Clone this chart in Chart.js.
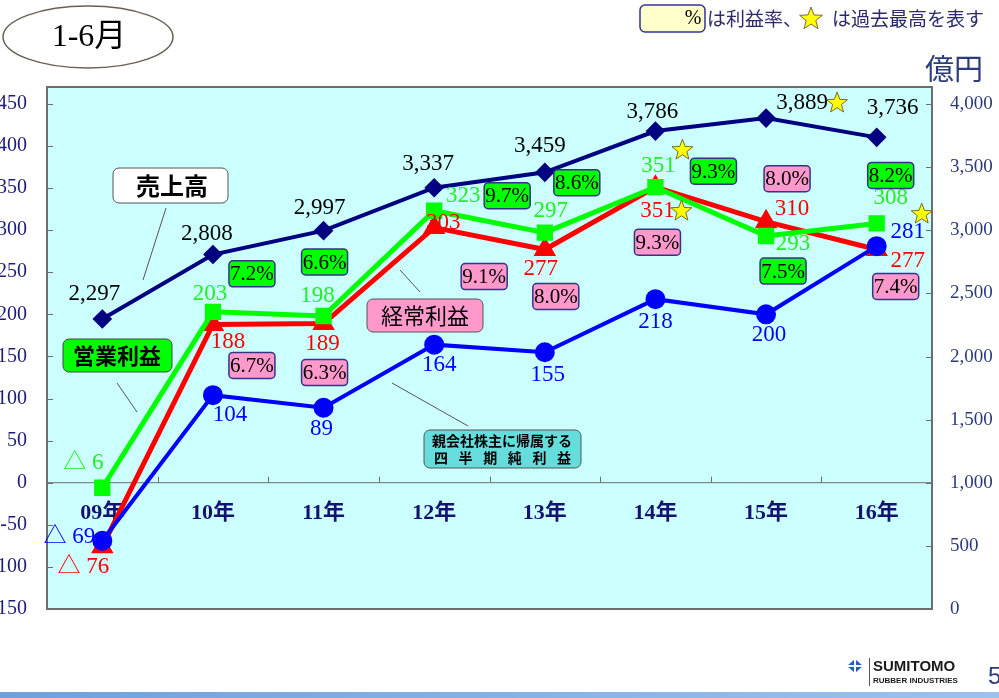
<!DOCTYPE html>
<html lang="ja">
<head>
<meta charset="UTF-8">
<title>1-6月 業績推移</title>
<script src="https://cdn.jsdelivr.net/npm/chart.js"></script>
<style>
  body { margin: 0; background: #fff; overflow: hidden; }
  canvas { display: block; }
</style>
</head>
<body>
<canvas id="chart" width="999" height="698"></canvas>
<script>
// values
const years = ['09年', '10年', '11年', '12年', '13年', '14年', '15年', '16年'];
const sales = [2297, 2808, 2997, 3337, 3459, 3786, 3889, 3736];     // 売上高 (right axis)
const opProfit = [-6, 203, 198, 323, 297, 351, 293, 308];            // 営業利益
const ordProfit = [-76, 188, 189, 303, 277, 351, 310, 277];          // 経常利益
const netProfit = [-69, 104, 89, 164, 155, 218, 200, 281];           // 純利益
const opMargin = [null, 7.2, 6.6, 9.7, 8.6, 9.3, 7.5, 8.2];
const ordMargin = [null, 6.7, 6.3, 9.1, 8.0, 9.3, 8.0, 7.4];
const leftTicks = [-150, -100, -50, 0, 50, 100, 150, 200, 250, 300, 350, 400, 450];
const rightTicks = [0, 500, 1000, 1500, 2000, 2500, 3000, 3500, 4000];
// record highs (index into each series)
const recordSales = 6, recordOp = 5, recordOrd = 5, recordNet = 7;

// label placement (offsets from the point, px)
const salesOff = [[-8,-25],[-6,-21],[-4,-23],[-6,-24],[-5,-26],[-3,-19],[36,-15],[16,-29]];
const opOff    = [[-19,-25],[-3,-18],[-6,-20],[29,-15],[6,-22],[3,-21],[27,8],[14,-25]];
const ordOff   = [[-19,20],[15,18],[-1,20],[9,-5],[-4,19],[2,24],[26,-13],[31,11]];
const netOff   = [[-33,-4],[17,20],[-2,21],[5,20],[3,23],[0,23],[3,21],[31,-14]];
const opBoxOff = [null,[39,-38],[1,-54],[73,-15],[32,-50],[58,-16],[17,35],[14,-48]];
const ordBoxOff = [null,[39,41],[1,49],[50,49],[11,47],[2,55],[21,-43],[19,37]];

const SERIF = '"Liberation Serif", "Times New Roman", "Noto Sans CJK JP", serif';
const JP = '"Noto Sans CJK JP", sans-serif';
const NAVY = '#000080';

function fmt(v) {
    if (v < 0) return '△ ' + Math.abs(v).toLocaleString('en-US');
    return v.toLocaleString('en-US');
}

function star(ctx, cx, cy, r) {
    ctx.save();
    ctx.beginPath();
    for (let i = 0; i < 10; i++) {
        const rad = i % 2 === 0 ? r : r * 0.42;
        const a = -Math.PI / 2 + i * Math.PI / 5;
        const px = cx + rad * Math.cos(a), py = cy + rad * Math.sin(a);
        if (i === 0) ctx.moveTo(px, py); else ctx.lineTo(px, py);
    }
    ctx.closePath();
    ctx.fillStyle = '#ffff00';
    ctx.fill();
    ctx.strokeStyle = '#7a6a30';
    ctx.lineWidth = 1;
    ctx.stroke();
    ctx.restore();
}

function roundBox(ctx, x, y, w, h, r, fill, stroke, lw) {
    ctx.save();
    ctx.beginPath();
    ctx.roundRect(x, y, w, h, r);
    ctx.fillStyle = fill;
    ctx.fill();
    ctx.strokeStyle = stroke;
    ctx.lineWidth = lw || 1.5;
    ctx.stroke();
    ctx.restore();
}

function line(ctx, x1, y1, x2, y2) {
    ctx.save();
    ctx.strokeStyle = '#555';
    ctx.lineWidth = 1;
    ctx.beginPath();
    ctx.moveTo(x1, y1);
    ctx.lineTo(x2, y2);
    ctx.stroke();
    ctx.restore();
}

function text(ctx, s, x, y, font, color, align) {
    ctx.font = font;
    ctx.fillStyle = color;
    ctx.textAlign = align || 'center';
    ctx.textBaseline = 'middle';
    ctx.fillText(s, x, y);
}

// plot background, frame, tick marks and category labels
const framePlugin = {
    id: 'frame',
    beforeDatasetsDraw(chart) {
        const { ctx, chartArea: a, scales } = chart;
        ctx.save();
        const y0 = scales.y.getPixelForValue(0);
        ctx.strokeStyle = '#6e6e6e';
        ctx.lineWidth = 1;
        ctx.beginPath();
        ctx.moveTo(a.left, y0);
        ctx.lineTo(a.right, y0);
        leftTicks.forEach(v => {
            const y = Math.round(scales.y.getPixelForValue(v)) + 0.5;
            ctx.moveTo(a.left, y); ctx.lineTo(a.left + 6, y);
        });
        rightTicks.forEach(v => {
            const y = Math.round(scales.y2.getPixelForValue(v)) + 0.5;
            ctx.moveTo(a.right - 6, y); ctx.lineTo(a.right, y);
        });
        for (let i = 1; i < years.length; i++) {
            const x = Math.round((scales.x.getPixelForValue(i - 1) + scales.x.getPixelForValue(i)) / 2) + 0.5;
            ctx.moveTo(x, y0); ctx.lineTo(x, y0 - 6);
        }
        ctx.stroke();
        ctx.lineWidth = 2;
        ctx.strokeRect(a.left, a.top, a.right - a.left, a.bottom - a.top);
        years.forEach((yr, i) => {
            text(ctx, yr, scales.x.getPixelForValue(i), y0 + 31, 'bold 22px ' + SERIF, '#141470');
        });
        ctx.restore();
    },
    beforeDraw(chart) {
        const { ctx, chartArea: a } = chart;
        ctx.save();
        ctx.fillStyle = '#ccffff';
        ctx.fillRect(a.left, a.top, a.right - a.left, a.bottom - a.top);
        ctx.restore();
    }
};

// value labels, margin boxes, stars and annotations
const labelPlugin = {
    id: 'labels',
    afterDatasetsDraw(chart) {
        const ctx = chart.ctx;
        ctx.save();
        const series = [
            { ds: 0, data: sales, off: salesOff, color: '#000000', rec: recordSales, starOff: [35, 0] },
            { ds: 1, data: ordProfit, off: ordOff, color: '#ff0000', rec: recordOrd, starOff: [24, 0] },
            { ds: 2, data: opProfit, off: opOff, color: '#22ee22', rec: recordOp, starOff: [24, -16] },
            { ds: 3, data: netProfit, off: netOff, color: '#0000ff', rec: recordNet, starOff: [14, -18] }
        ];
        series.forEach(s => {
            const pts = chart.getDatasetMeta(s.ds).data;
            s.data.forEach((v, i) => {
                const p = pts[i];
                const lx = p.x + s.off[i][0], ly = p.y + s.off[i][1];
                text(ctx, fmt(v), lx, ly, '23px ' + SERIF, s.color);
                if (i === s.rec) star(ctx, lx + s.starOff[0], ly + s.starOff[1], 11);
            });
        });

        const opPts = chart.getDatasetMeta(2).data;
        const ordPts = chart.getDatasetMeta(1).data;
        opMargin.forEach((m, i) => {
            if (m === null) return;
            const cx = opPts[i].x + opBoxOff[i][0], cy = opPts[i].y + opBoxOff[i][1];
            roundBox(ctx, cx - 23, cy - 13, 46, 26, 4, '#00ff00', '#333388');
            text(ctx, m.toFixed(1) + '%', cx, cy + 1, '21px ' + SERIF, '#000');
        });
        ordMargin.forEach((m, i) => {
            if (m === null) return;
            const cx = ordPts[i].x + ordBoxOff[i][0], cy = ordPts[i].y + ordBoxOff[i][1];
            roundBox(ctx, cx - 23, cy - 13, 46, 26, 4, '#ff99cc', '#333388');
            text(ctx, m.toFixed(1) + '%', cx, cy + 1, '21px ' + SERIF, '#000');
        });

        // series name callouts
        roundBox(ctx, 113, 168, 115, 35, 6, '#ffffff', '#555555', 1);
        text(ctx, '売上高', 172, 186, 'bold 24px ' + JP, '#000');
        line(ctx, 166, 208, 143, 280);

        roundBox(ctx, 63, 339, 109, 33, 6, '#00ff00', '#444444', 1);
        text(ctx, '営業利益', 117, 356, 'bold 22px ' + JP, '#000');
        line(ctx, 117, 383, 137, 412);

        roundBox(ctx, 367, 299, 116, 33, 6, '#ff99cc', '#555555', 1);
        text(ctx, '経常利益', 425, 316, '22px ' + JP, '#000');
        line(ctx, 400, 270, 420, 292);

        roundBox(ctx, 424, 430, 157, 38, 6, '#66dddd', '#555555', 1);
        text(ctx, '親会社株主に帰属する', 502, 441, 'bold 14px ' + JP, '#000');
        const net2 = ['四', '半', '期', '純', '利', '益'];
        net2.forEach((c, i) => text(ctx, c, 441 + i * 24.6, 458, 'bold 14px ' + JP, '#000'));
        line(ctx, 392, 383, 468, 426);
        ctx.restore();
    },
    afterDraw(chart) {
        const ctx = chart.ctx;
        ctx.save();
        // title ellipse
        ctx.beginPath();
        ctx.ellipse(88, 37, 85, 31, 0, 0, Math.PI * 2);
        ctx.strokeStyle = '#6b5f55';
        ctx.lineWidth = 1.5;
        ctx.stroke();
        text(ctx, '1-6月', 89, 38, '32px ' + SERIF, '#000');

        // legend line at top right
        roundBox(ctx, 640, 5, 65, 27, 5, '#ffffcc', '#333399', 1.5);
        text(ctx, '%', 693, 19, '20px ' + SERIF, '#000');
        text(ctx, 'は利益率、', 707, 19, '19px ' + JP, '#2a2a6a', 'left');
        star(ctx, 811, 19, 12);
        text(ctx, 'は過去最高を表す', 832, 19, '19px ' + JP, '#2a2a6a', 'left');

        text(ctx, '億円', 954, 69, '29px ' + JP, '#2b3d7a');

        // logo
        ctx.fillStyle = '#1f5fbf';
        ctx.beginPath();
        ctx.moveTo(855, 659); ctx.lineTo(863, 666); ctx.lineTo(855, 673); ctx.lineTo(847, 666);
        ctx.closePath();
        ctx.fill();
        ctx.fillStyle = '#ffffff';
        ctx.fillRect(847, 665, 16, 2);
        ctx.fillRect(854, 659, 2, 14);
        line(ctx, 869.5, 658, 869.5, 686);
        text(ctx, 'SUMITOMO', 873, 667, 'bold 15px "Liberation Sans", Arial, sans-serif', '#1a1a1a', 'left');
        text(ctx, 'RUBBER INDUSTRIES', 873, 681, 'bold 8px "Liberation Sans", Arial, sans-serif', '#1a1a1a', 'left');
        text(ctx, '5', 988, 677, '24px "Liberation Sans", Arial, sans-serif', '#2b3d7a', 'left');

        // bottom band
        const g = ctx.createLinearGradient(0, 0, 999, 0);
        g.addColorStop(0, '#6fa0de');
        g.addColorStop(1, '#9cc2ee');
        ctx.fillStyle = g;
        ctx.fillRect(0, 692, 999, 6);
        ctx.restore();
    }
};

new Chart(document.getElementById('chart').getContext('2d'), {
    type: 'line',
    data: {
        labels: years,
        datasets: [
            {
                label: '売上高', data: sales, yAxisID: 'y2',
                borderColor: NAVY, backgroundColor: NAVY, borderWidth: 4,
                pointStyle: 'rectRot', pointRadius: 7, tension: 0, order: 0
            },
            {
                label: '経常利益', data: ordProfit, yAxisID: 'y',
                borderColor: '#ff0000', backgroundColor: '#ff0000', borderWidth: 5,
                pointStyle: 'triangle', pointRadius: 8, tension: 0, order: 3
            },
            {
                label: '営業利益', data: opProfit, yAxisID: 'y',
                borderColor: '#00ff00', backgroundColor: '#00ff00', borderWidth: 5,
                pointStyle: 'rect', pointRadius: 8, tension: 0, order: 2
            },
            {
                label: '親会社株主に帰属する四半期純利益', data: netProfit, yAxisID: 'y',
                borderColor: '#0000ff', backgroundColor: '#0000ff', borderWidth: 4,
                pointStyle: 'circle', pointRadius: 8, tension: 0, order: 1
            }
        ]
    },
    options: {
        responsive: false,
        animation: false,
        layout: { padding: { top: 87, bottom: 89, left: 0, right: 0 } },
        plugins: { legend: { display: false }, tooltip: { enabled: false } },
        scales: {
            x: { type: 'category', offset: true, display: false },
            y: {
                position: 'left', min: -150, max: 470,
                afterBuildTicks: s => { s.ticks = leftTicks.map(v => ({ value: v })); },
                afterFit: s => { s.width = 47; },
                grid: { display: false, drawTicks: false },
                border: { display: false },
                ticks: { padding: 20, color: '#1c1c78', font: { family: SERIF, size: 20 } }
            },
            y2: {
                position: 'right', min: 0, max: 4135,
                afterBuildTicks: s => { s.ticks = rightTicks.map(v => ({ value: v })); },
                afterFit: s => { s.width = 67; },
                grid: { display: false, drawTicks: false },
                border: { display: false },
                ticks: {
                    padding: 18, color: '#2e3a78', font: { family: SERIF, size: 19 },
                    callback: v => v.toLocaleString('en-US')
                }
            }
        }
    },
    plugins: [framePlugin, labelPlugin]
});
</script>
</body>
</html>
